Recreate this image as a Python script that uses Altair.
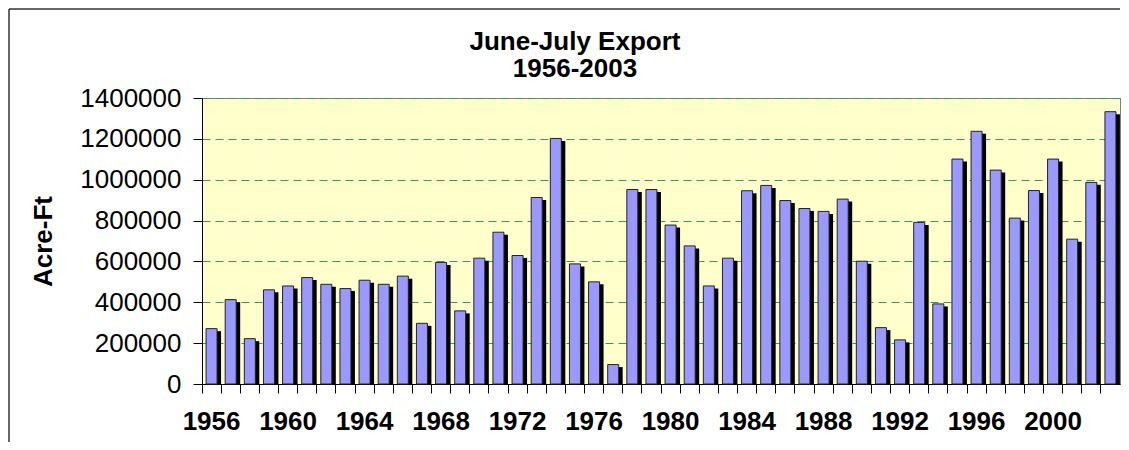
import altair as alt
import pandas as pd

years = list(range(1956, 2004))
export_af = [271000, 413000, 222000, 461000, 480000, 521000, 488000, 467000,
             508000, 488000, 528000, 297000, 595000, 358000,
             616000, 743000, 629000, 913000, 1202000, 588000, 500000, 95000,
             952000, 952000, 778000, 676000, 480000, 616000, 946000, 972000,
             898000, 859000, 845000, 905000, 601000, 276000, 216000, 791000,
             392000, 1101000, 1237000, 1047000, 812000, 947000, 1101000,
             709000, 987000, 1333000]
y_ticks = [0, 200000, 400000, 600000, 800000, 1000000, 1200000, 1400000]
x_label_years = [1956, 1960, 1964, 1968, 1972, 1976, 1980, 1984, 1988, 1992, 1996, 2000]
title_lines = ["June-July Export", "1956-2003"]

df = pd.DataFrame({"year": years, "value": export_af})

FONT = "Liberation Sans"
W, H = 918, 286

label_expr = "indexof([" + ",".join(str(v) for v in x_label_years) + "], datum.value) >= 0 ? datum.label : ''"

x_enc = alt.X(
    "year:O",
    scale=alt.Scale(paddingInner=0, paddingOuter=0),
    axis=alt.Axis(
        title=None, bandPosition=0, labelExpr=label_expr,
        labelAngle=0, labelFont=FONT, labelFontSize=26, labelFontWeight="bold",
        labelColor="black", labelPadding=15, tickSize=9, tickColor="black",
        domainColor="black", grid=False,
    ),
)
y_enc = alt.Y(
    "value:Q",
    scale=alt.Scale(domain=[0, 1400000], nice=False),
    axis=alt.Axis(
        title="Acre-Ft", values=y_ticks, format="d", labelFont=FONT,
        labelFontSize=26, labelColor="black", labelPadding=12, tickSize=9,
        tickColor="black", domainColor="black", grid=True, gridColor="#339966",
        gridDash=[8, 5], gridWidth=1, titleFont=FONT, titleFontSize=26,
        titleFontWeight="bold", titleColor="black", titlePadding=23,
    ),
)

base = alt.Chart(df)
shadow = base.mark_bar(size=11, color="black", xOffset=4, yOffset=2.5, clip=True).encode(x=x_enc, y=y_enc)
bars = base.mark_bar(size=11, fill="#9999FF", stroke="#222222", strokeWidth=1).encode(x=x_enc, y=y_enc)

frame_src = alt.Chart(pd.DataFrame({"k": [0]}))
border_top = frame_src.mark_rule(color="#333333", strokeWidth=1.5, clip=False).encode(
    x=alt.value(-193), x2=alt.value(W), y=alt.value(-89))
border_left = frame_src.mark_rule(color="#333333", strokeWidth=1.5, clip=False).encode(
    x=alt.value(-193), y=alt.value(-89), y2=alt.value(344))

chart = alt.layer(border_top, border_left, shadow, bars).properties(
    width=W, height=H,
    padding=0,
    title=alt.Title(
        title_lines, font=FONT, fontSize=26, fontWeight="bold", color="black",
        anchor="middle", frame="group", dx=-86, offset=-74, lineHeight=27.5,
    ),
).configure_view(fill="#FFFFCC", stroke="#808080", strokeWidth=1)

chart.save("out.html", embed_options={"renderer": "svg", "actions": False})
